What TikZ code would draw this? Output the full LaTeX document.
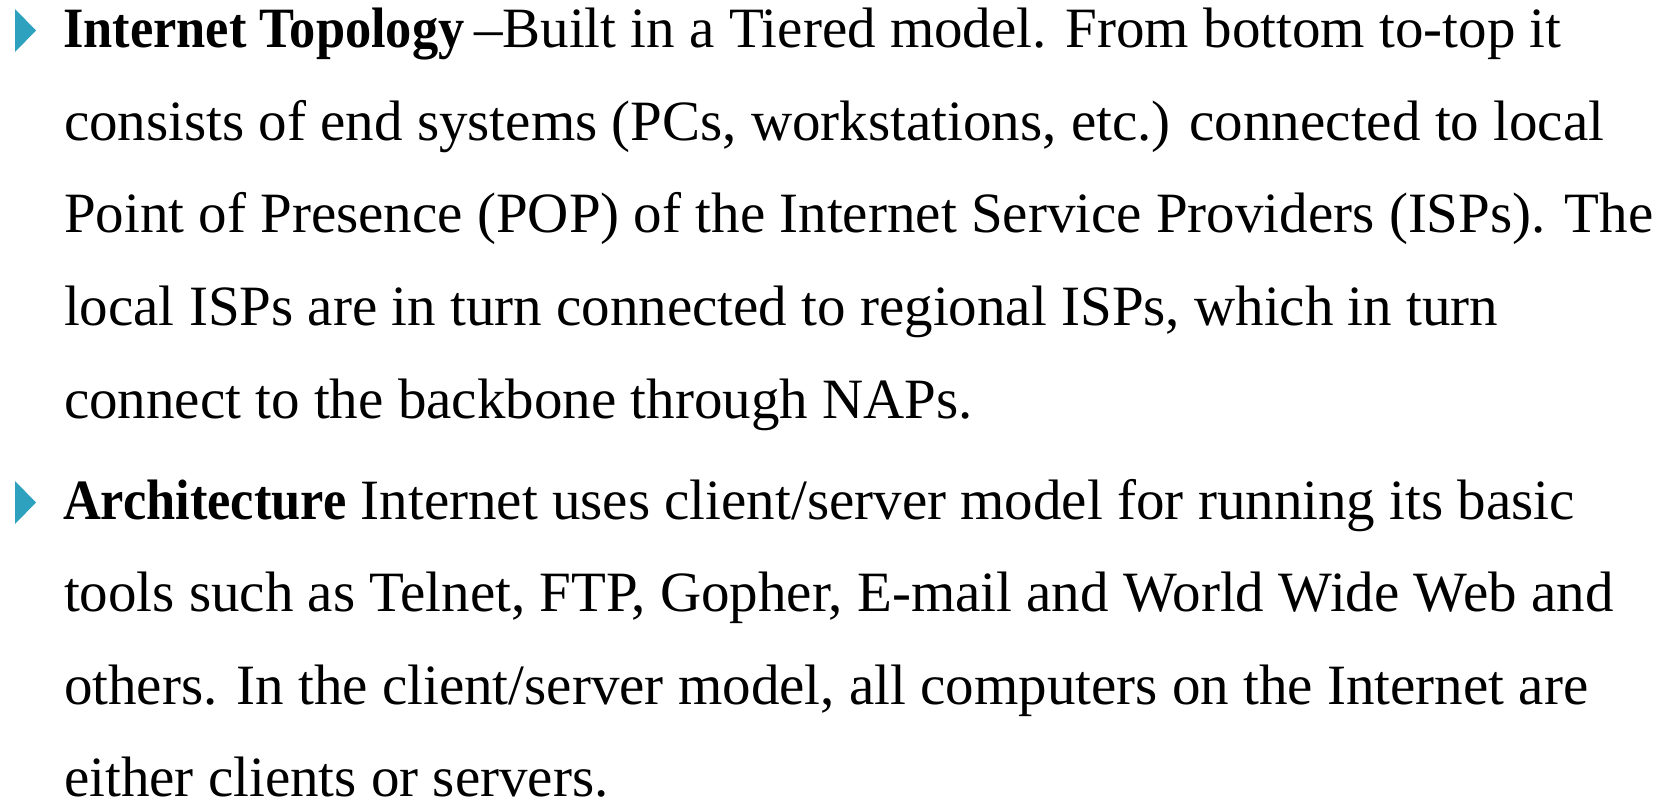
\documentclass[tikz,border=0pt]{standalone}
\usepackage{fontspec}
\setmainfont{Liberation Serif}[BoldFeatures={FakeStretch=0.92}]
\definecolor{bulletteal}{RGB}{46,161,191}
\begin{document}
\begin{tikzpicture}[x=1pt,y=-1pt,
  txt/.style={anchor=base west,inner sep=0pt,outer sep=0pt,
    font=\fontsize{57}{70}\selectfont},
  bul/.style={fill=bulletteal,draw=none}]
\fill[white] (0,0) rectangle (1671,801);
\useasboundingbox (0,0) rectangle (1671,801);
% bullet markers
\fill[bul] (15,9) -- (36,30.5) -- (15,52) -- cycle;
\fill[bul] (15,481) -- (36,502.5) -- (15,524) -- cycle;
% first item
\node[txt] (l1) at (63,47) {\textbf{Internet Topology}\,–Built in a Tiered model. From bottom to-top it};
\node[txt] (l2) at (64,140) {consists of end systems (PCs, workstations, etc.) connected to local};
\node[txt] (l3) at (64,232.5) {Point of Presence (POP) of the Internet Service Providers (ISPs). The};
\node[txt] (l4) at (64,325.5) {local ISPs are in turn connected to regional ISPs, which in turn};
\node[txt] (l5) at (64,418) {connect to the backbone through NAPs.};
% second item
\node[txt] (l6) at (63,519) {\textbf{Architecture} Internet uses client/server model for running its basic};
\node[txt] (l7) at (64,611.5) {tools such as Telnet, FTP, Gopher, E-mail and World Wide Web and};
\node[txt] (l8) at (64,704) {others. In the client/server model, all computers on the Internet are};
\node[txt] (l9) at (64,796.5) {either clients or servers.};
\end{tikzpicture}
\end{document}
